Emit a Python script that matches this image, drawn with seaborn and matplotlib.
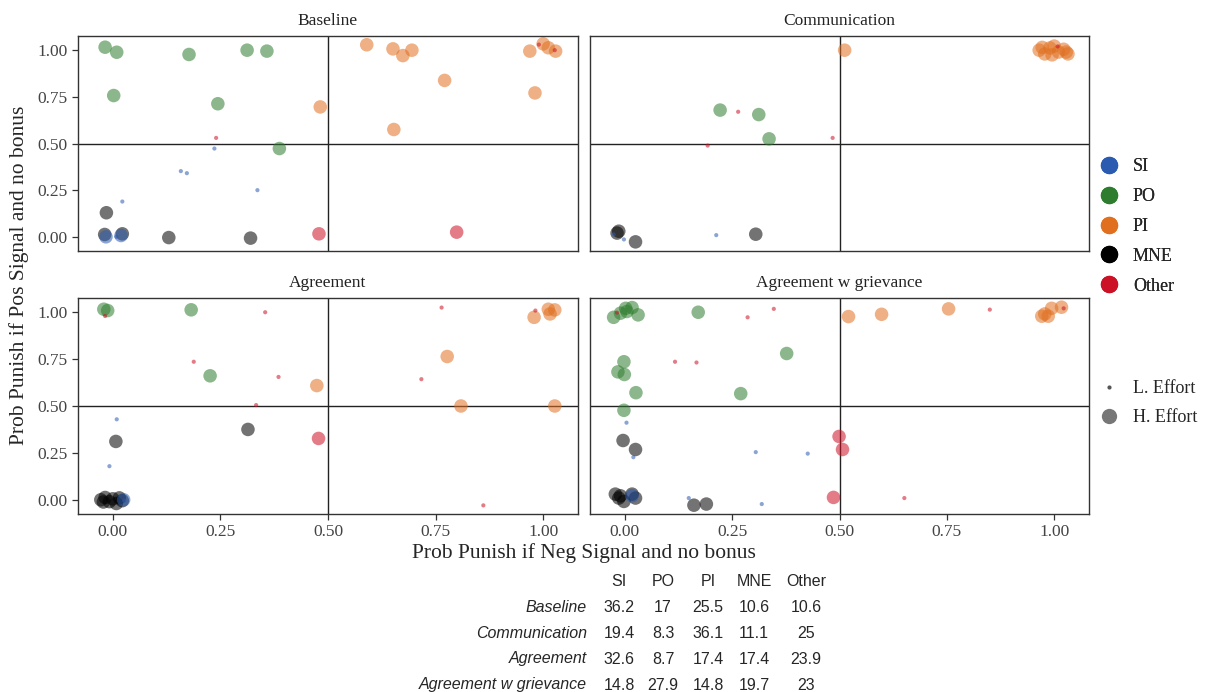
import pandas as pd
import seaborn as sns
import matplotlib.pyplot as plt
from matplotlib.lines import Line2D

PANELS = ["Baseline", "Communication", "Agreement", "Agreement w grievance"]
TYPES = ["SI", "PO", "PI", "MNE", "Other"]
PALETTE = {"SI": "#2B5BB0", "PO": "#2E7D2E", "PI": "#E07020",
           "MNE": "#000000", "Other": "#CC1025"}

# Baseline
baseline_x = [-0.018, 0.009, 0.177, 0.312, 0.358, 0.002, 0.244, 0.387,
              0.482, 0.590, 0.651, 0.674, 0.695, 0.771, 0.653, 0.969, 0.981, 1.0, 1.012, 1.029,
              0.479, 0.799,
              -0.015, -0.019, 0.022, 0.130, 0.320,
              -0.016, 0.019,
              0.236, 0.158, 0.172, 0.336, 0.022, 0.008,
              0.240, 0.990, 1.027]
baseline_y = [1.016, 0.989, 0.977, 1.0, 0.995, 0.757, 0.713, 0.473,
              0.696, 1.029, 1.007, 0.971, 1.0, 0.838, 0.575, 0.995, 0.771, 1.034, 1.013, 0.995,
              0.016, 0.025,
              0.129, 0.0125, 0.016, -0.004, -0.007,
              0.0, 0.007,
              0.473, 0.352, 0.341, 0.25, 0.189, 0.0,
              0.530, 1.03, 1.0]
baseline_type = ["PO"] * 8 + ["PI"] * 12 + ["Other"] * 2 + ["MNE"] * 5 + ["SI"] * 2 + ["SI"] * 6 + ["Other"] * 3
baseline_effort = ["H"] * 29 + ["L"] * 9

# Communication
comm_x = [0.512, 0.965, 0.978, 0.99, 1.0, 1.01, 1.022, 1.032, 0.972, 0.995, 1.028,
          0.222, 0.312, 0.336,
          -0.014, -0.018, 0.025, 0.305,
          0.213, -0.002, -0.026,
          0.264, 0.193, 0.484, 1.008]
comm_y = [1.0, 1.0, 0.98, 1.012, 1.022, 0.99, 1.005, 0.98, 1.015, 0.975, 0.99,
          0.679, 0.655, 0.525,
          0.03, 0.02, -0.027, 0.014,
          0.009, -0.014, 0.0125,
          0.670, 0.489, 0.530, 1.02]
comm_type = ["PI"] * 11 + ["PO"] * 3 + ["MNE"] * 4 + ["SI"] * 3 + ["Other"] * 4
comm_effort = ["H"] * 18 + ["L"] * 7

# Agreement
agree_x = [-0.021, -0.012, 0.182, 0.226,
           0.474, 0.777, 0.809, 1.027, 0.979, 1.012, 1.027, 1.016,
           0.478,
           0.007, 0.314, -0.028, -0.018, -0.008, 0.0, 0.008, 0.015, 0.022, -0.022,
           0.025,
           0.009, -0.008, 0.027,
           -0.018, 0.354, 0.188, 0.385, 0.333, 0.764, 0.717, 0.861, 0.982]
agree_y = [1.016, 1.009, 1.013, 0.661,
           0.609, 0.764, 0.5, 0.5, 0.973, 1.016, 1.0125, 0.991,
           0.327,
           0.311, 0.375, 0.0, 0.012, -0.01, 0.005, -0.02, 0.01, -0.005, -0.012,
           0.0,
           0.429, 0.179, -0.005,
           0.98, 1.0, 0.736, 0.655, 0.505, 1.025, 0.643, -0.030, 1.009]
agree_type = ["PO"] * 4 + ["PI"] * 8 + ["Other"] + ["MNE"] * 10 + ["SI"] + ["SI"] * 3 + ["Other"] * 9
agree_effort = ["H"] * 24 + ["L"] * 12

# Agreement w grievance
griev_x = [-0.026, -0.010, 0.002, 0.017, 0.031, 0.005, 0.171, 0.377, -0.002, -0.016, -0.001, 0.026, 0.270, -0.002,
           0.521, 0.598, 0.754, 0.971, 0.986, 0.994, 1.017, 0.978,
           0.499, 0.507, 0.486,
           -0.004, 0.025, 0.161, 0.190, -0.022, -0.010, -0.002, 0.017, 0.025, -0.014,
           0.017,
           0.004, 0.020, 0.305, 0.426, 0.149, 0.319,
           -0.018, 0.286, 0.347, 0.117, 0.167, 0.850, 1.022, 0.651]
griev_y = [0.973, 0.995, 1.021, 1.025, 0.986, 1.004, 1.0, 0.780, 0.736, 0.682, 0.668, 0.571, 0.566, 0.477,
           0.977, 0.989, 1.018, 0.979, 0.979, 1.021, 1.027, 0.991,
           0.3375, 0.268, 0.0125,
           0.316, 0.268, -0.029, -0.023, 0.030, 0.021, -0.009, 0.030, 0.009, 0.009,
           0.021,
           0.411, 0.227, 0.254, 0.246, 0.009, -0.023,
           0.998, 0.973, 1.018, 0.736, 0.732, 1.014, 1.021, 0.009]
griev_type = ["PO"] * 14 + ["PI"] * 8 + ["Other"] * 3 + ["MNE"] * 10 + ["SI"] + ["SI"] * 6 + ["Other"] * 8
griev_effort = ["H"] * 36 + ["L"] * 14

# share of each type (%) for the table under the plot
TABLE_COLS = ["SI", "PO", "PI", "MNE", "Other"]
TABLE_ROWS = ["Baseline", "Communication", "Agreement", "Agreement w grievance"]
baseline_share = ["36.2", "17", "25.5", "10.6", "10.6"]
comm_share = ["19.4", "8.3", "36.1", "11.1", "25"]
agree_share = ["32.6", "8.7", "17.4", "17.4", "23.9"]
griev_share = ["14.8", "27.9", "14.8", "19.7", "23"]

frames = []
for name, xs, ys, ts, es in [
    ("Baseline", baseline_x, baseline_y, baseline_type, baseline_effort),
    ("Communication", comm_x, comm_y, comm_type, comm_effort),
    ("Agreement", agree_x, agree_y, agree_type, agree_effort),
    ("Agreement w grievance", griev_x, griev_y, griev_type, griev_effort),
]:
    frames.append(pd.DataFrame({"treat": name, "neg": xs, "pos": ys, "type": ts, "effort": es}))
df = pd.concat(frames, ignore_index=True)

sns.set_style("white")
plt.rcParams["font.family"] = ["Liberation Serif", "DejaVu Serif"]

fig = plt.figure(figsize=(12.28, 6.92), dpi=100)
W, H = 1228, 692
boxes = [(78, 36, 578, 251), (590, 36, 1089, 251), (78, 298, 578, 514), (590, 298, 1089, 514)]

for i, (panel, (l, t, r, b)) in enumerate(zip(PANELS, boxes)):
    ax = fig.add_axes([l / W, 1 - b / H, (r - l) / W, (b - t) / H])
    d = df[df.treat == panel]
    d = pd.concat([d[d.effort == "H"], d[d.effort == "L"]])
    sns.scatterplot(data=d, x="neg", y="pos", hue="type", size="effort",
                    sizes={"H": 95, "L": 9}, palette=PALETTE, alpha=0.55,
                    linewidth=0, legend=False, ax=ax)
    ax.axvline(0.5, color="#222222", lw=1.0, zorder=0)
    ax.axhline(0.5, color="#222222", lw=1.0, zorder=0)
    ax.set_xlim(-0.081, 1.081)
    ax.set_ylim(-0.076, 1.076)
    ticks = [0, 0.25, 0.5, 0.75, 1.0]
    ax.set_xticks(ticks)
    ax.set_yticks(ticks)
    ax.set_xticklabels(["0.00", "0.25", "0.50", "0.75", "1.00"])
    ax.set_yticklabels(["0.00", "0.25", "0.50", "0.75", "1.00"])
    ax.set_xlabel("")
    ax.set_ylabel("")
    ax.set_title(panel, fontsize=12.5, pad=8, color="#222222")
    for s in ax.spines.values():
        s.set_color("#333333")
        s.set_linewidth(1.0)
    left_col = i % 2 == 0
    bottom_row = i >= 2
    ax.tick_params(axis="x", bottom=bottom_row, labelbottom=bottom_row,
                   length=4, width=0.9, color="#333333", labelsize=12.5, labelcolor="#444444")
    ax.tick_params(axis="y", left=left_col, labelleft=left_col,
                   length=4, width=0.9, color="#333333", labelsize=12.5, labelcolor="#444444")

fig.text(583.5 / W, 1 - 553 / H, "Prob Punish if Neg Signal and no bonus",
         ha="center", va="center", fontsize=15.5)
fig.text(19 / W, 1 - 275 / H, "Prob Punish if Pos Signal and no bonus",
         ha="center", va="center", rotation=90, fontsize=15.5)

# legends
type_handles = [Line2D([], [], marker="o", ls="", markersize=12.5,
                       markerfacecolor=PALETTE[t], markeredgewidth=0) for t in TYPES]
leg1 = fig.legend(type_handles, TYPES, loc="upper left", bbox_to_anchor=(1082 / W, 1 - 142 / H),
                  frameon=False, fontsize=13, handletextpad=0.72, labelspacing=0.71,
                  handlelength=1.2)
fig.add_artist(leg1)
eff_handles = [Line2D([], [], marker="o", ls="", markersize=3, markerfacecolor="#555555", markeredgewidth=0),
               Line2D([], [], marker="o", ls="", markersize=11, markerfacecolor="#777777", markeredgewidth=0)]
fig.legend(eff_handles, ["L. Effort", "H. Effort"], loc="upper left",
           bbox_to_anchor=(1082 / W, 1 - 364 / H), frameon=False, fontsize=13,
           handletextpad=0.72, labelspacing=0.66, handlelength=1.2)

# summary table
col_x = [619, 663, 708, 754, 806]
row_y = [608, 633, 659, 685]
tfont = ["Liberation Sans", "DejaVu Sans"]
for cx, c in zip(col_x, TABLE_COLS):
    fig.text(cx / W, 1 - 582 / H, c, ha="center", va="center", fontsize=11.5, family=tfont)
for ry, rname, vals in zip(row_y, TABLE_ROWS, [baseline_share, comm_share, agree_share, griev_share]):
    fig.text(587 / W, 1 - ry / H, rname, ha="right", va="center", fontsize=11.5,
             style="italic", family=tfont)
    for cx, v in zip(col_x, vals):
        fig.text(cx / W, 1 - ry / H, v, ha="center", va="center", fontsize=11.5, family=tfont)

fig.savefig("out.png", dpi=100)
